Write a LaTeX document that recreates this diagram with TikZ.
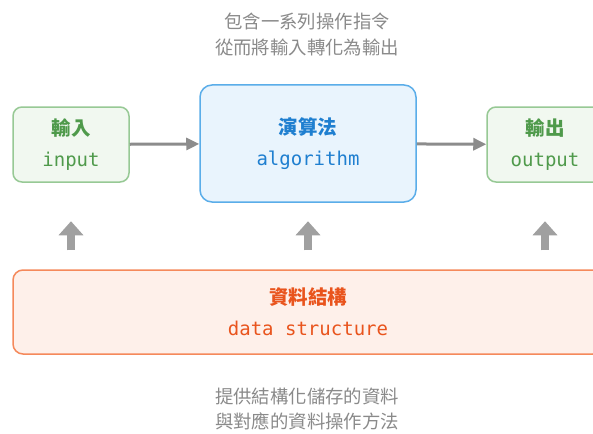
\documentclass[tikz,border=0pt]{standalone}
\usepackage{fontspec}
\setmainfont{Noto Sans CJK TC}
\setmonofont{DejaVu Sans Mono}
\usetikzlibrary{arrows.meta,calc}
\definecolor{gborder}{HTML}{97C995}
\definecolor{gfill}{HTML}{F1F8F0}
\definecolor{gtext}{HTML}{4F9A4B}
\definecolor{bborder}{HTML}{5AADE9}
\definecolor{bfill}{HTML}{E9F4FD}
\definecolor{btext}{HTML}{1F7FD0}
\definecolor{oborder}{HTML}{F5895B}
\definecolor{ofill}{HTML}{FEF0EA}
\definecolor{otext}{HTML}{E9541D}
\definecolor{notegray}{HTML}{8A8A8A}
\definecolor{arrgray}{HTML}{8C8C8C}
\definecolor{upgray}{HTML}{A0A0A0}
\newcommand\boxtitle[1]{{\bfseries\fontsize{19.5}{19.5}\selectfont #1}}
\newcommand\boxcode[1]{{\ttfamily\fontsize{19}{19}\selectfont #1}}
\begin{document}
\begin{tikzpicture}[x=1pt,y=-1pt,
  box/.style={draw, line width=1.5pt, align=center, inner sep=0pt,
    font=\fontsize{19}{31}\selectfont},
  greenbox/.style={box, rounded corners=9pt, draw=gborder, fill=gfill, text=gtext,
    minimum width=116pt, minimum height=75pt},
  bluebox/.style={box, rounded corners=12pt, draw=bborder, fill=bfill, text=btext,
    minimum width=216pt, minimum height=117pt},
  orangebox/.style={box, rounded corners=10pt, draw=oborder, fill=ofill, text=otext,
    minimum width=590pt, minimum height=84pt},
  note/.style={text=notegray, align=center, font=\fontsize{18.4}{25.5}\selectfont},
  flow/.style={draw=arrgray, line width=3pt, -{Triangle[length=13pt,width=12pt]}},
  up/.style={draw=upgray, line width=8.5pt, -{Triangle[length=14pt,width=24pt]}}
]
\clip (0,0) rectangle (593,433);
\fill[white] (0,0) rectangle (593,433);

\node[note] (topnote) at (307,34.5) {包含一系列操作指令\\從而將輸入轉化為輸出};
\node[note] (botnote) at (307,409) {提供結構化儲存的資料\\與對應的資料操作方法};

\node[greenbox] (in) at (71,144.5) {\boxtitle{輸入}\\\boxcode{input}};
\node[bluebox] (algo) at (308,143.5) {\boxtitle{演算法}\\\boxcode{algorithm}};
\node[greenbox] (out) at (545,144.5) {\boxtitle{輸出}\\\boxcode{output}};
\node[orangebox] (ds) at (308,312) {\boxtitle{資料結構}\\\boxcode{data structure}};

\draw[flow] (in) -- (algo);
\draw[flow] (algo) -- (out);

\foreach \t/\n in {in/1, algo/2, out/3}{
  \coordinate (s\n) at ($(ds.north -| \t)+(0,-19)$);
  \coordinate (e\n) at ($(ds.north -| \t)+(0,-48)$);
  \draw[up] (s\n) -- (e\n);
}
\end{tikzpicture}
\end{document}
